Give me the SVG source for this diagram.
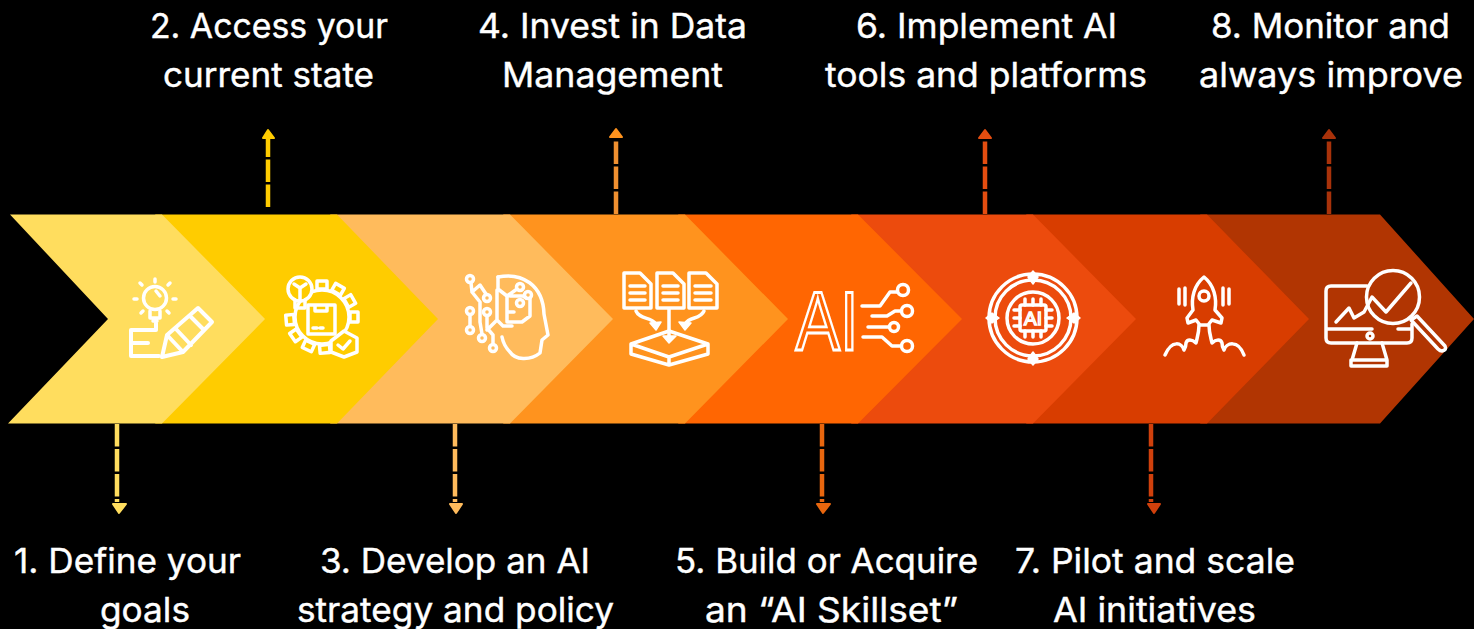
<svg xmlns="http://www.w3.org/2000/svg" width="1474" height="629" viewBox="0 0 1474 629">
<style>
text.l{font-family:"Inter","Liberation Sans",sans-serif;font-size:34px;font-weight:400;fill:#fff;stroke:#fff;stroke-width:.4;text-anchor:middle}
.ic{fill:none;stroke:#fff;stroke-width:3.500;stroke-linecap:round;stroke-linejoin:round}
.icf{fill:#fff;stroke:#fff;stroke-width:1.500;stroke-linejoin:round}
.ai{font-family:"Liberation Sans",sans-serif;fill:none;stroke:#fff;text-anchor:middle}
.c{fill:none;stroke-width:4.500;stroke-dasharray:22.500 2.500}
.h{stroke-width:2;stroke-linejoin:round}
</style>
<rect width="1474" height="629" fill="#000"/>
<g id="band">
<polygon points="1200,214.500 1380,214.500 1474,319 1380,423.500 1200,423.500 1300,319" fill="#b13502"/>
<polygon points="1026,214.500 1207,214.500 1309,319 1207,423.500 1026,423.500 1127,319" fill="#d83d00"/>
<polygon points="851,214.500 1033,214.500 1136,319 1033,423.500 851,423.500 953,319" fill="#ec4b0d"/>
<polygon points="678,214.500 858,214.500 962,319 858,423.500 678,423.500 779,319" fill="#ff6602"/>
<polygon points="503,214.500 685,214.500 788,319 685,423.500 503,423.500 604,319" fill="#ff931e"/>
<polygon points="330,214.500 510,214.500 613,319 510,423.500 330,423.500 429,319" fill="#ffbb5c"/>
<polygon points="155,214.500 337,214.500 438,319 337,423.500 155,423.500 256,319" fill="#ffcc00"/>
<polygon points="10,214.500 162,214.500 265,319 162,423.500 8,423.500 108,319" fill="#ffdd5e"/>
</g>
<g id="connectors">
<path class="c" stroke="#ffdd5e" d="M117,424V502"/><path class="h" fill="#ffdd5e" stroke="#ffdd5e" d="M113,504H126L119,513Z"/>
<path class="c" stroke="#ffcc00" d="M268,207V139"/><path class="h" fill="#ffcc00" stroke="#ffcc00" d="M263,138L268,130L274,138Z"/>
<path class="c" stroke="#ffbb5c" d="M455,424V502"/><path class="h" fill="#ffbb5c" stroke="#ffbb5c" d="M450,504H462L456,513Z"/>
<path class="c" stroke="#f09030" d="M616,214V140"/><path class="h" fill="#ff931e" stroke="#ff931e" d="M610,137L616,129L622,137Z"/>
<path class="c" stroke="#e8660e" d="M822,424V502"/><path class="h" fill="#e8660e" stroke="#e8660e" d="M817,504H830L823,513Z"/>
<path class="c" stroke="#e44d10" d="M985,214V140"/><path class="h" fill="#e44d10" stroke="#e44d10" d="M979,138L985,130L991,138Z"/>
<path class="c" stroke="#d0400c" d="M1151,424V502"/><path class="h" fill="#d0400c" stroke="#d0400c" d="M1148,504H1160L1154,513Z"/>
<path class="c" stroke="#a8320a" d="M1329,214V140"/><path class="h" fill="#a8320a" stroke="#a8320a" d="M1323,138L1329,130L1335,138Z"/>
</g>
<g id="icon-1" class="ic">
<circle cx="155" cy="298" r="11.500"/><path d="M150,311V318H160V311M153,321H157M155,282V279M137,299H134M176,299H173M142,285L140,283M168,285L170,283M143,311L141,313M167,311L169,313M160,296L156,291"/>
<path stroke-width="4" d="M156,323V330H131V343H148M131,343V356H159"/>
<path stroke-width="4" d="M162,357L167,335L198,308L212,322L183,352ZM167,335L183,352M175,328L191,345M190,316L204,330"/>
</g>
<g id="icon-2" class="ic">
<g transform="translate(322,317)">
<rect x="-5" y="-36" width="10" height="8"/><rect x="-5" y="-36" width="10" height="8" transform="rotate(30)"/><rect x="-5" y="-36" width="10" height="8" transform="rotate(60)"/><rect x="-5" y="-36" width="10" height="8" transform="rotate(90)"/><rect x="-5" y="-36" width="10" height="8" transform="rotate(175)"/><rect x="-5" y="-36" width="10" height="8" transform="rotate(205)"/><rect x="-5" y="-36" width="10" height="8" transform="rotate(235)"/><rect x="-5" y="-36" width="10" height="8" transform="rotate(265)"/>
<circle r="27"/>
</g>
<circle cx="300" cy="289" r="12" fill="#ffcc00"/><path d="M295,300V308H305V300M300,288V301M294,284L300,288L306,284"/>
<rect x="308" y="305" width="27" height="29" fill="#ffcc00"/><path d="M313,328H317M320,328H323M315,306V311H327V306"/>
<path fill="#ffcc00" d="M331,341L344,331L357,338V352L344,357L331,352ZM338,345L343,349L350,341"/>
</g>
<g id="icon-3" class="ic">
<path d="M498,277C522,272 543,285 544,314L548,335L542,340L540,353C530,361 515,360 510,352C506,348 503,342 502,337"/>
<circle cx="470" cy="279" r="3.500"/><circle cx="470" cy="311" r="3.500"/><circle cx="470" cy="330" r="3.500"/><circle cx="482" cy="338" r="3.500"/><circle cx="487" cy="298" r="3.500"/><circle cx="487" cy="312" r="3.500"/><circle cx="493" cy="348" r="3.500"/><circle cx="520" cy="287" r="3.500"/><circle cx="528" cy="295" r="3.500"/><circle cx="520" cy="303" r="3.500"/>
<path d="M471,283L472,292L480,302V322L482,334M472,292L480,285L486,294M470,315V326M487,316V328L493,335V344M498,277V289L507,296L517,289M497,290V320L487,330M507,296V312H514M510,296H523L526,298M507,312V322H522L530,316V299M497,320L503,326H512"/>
</g>
<g id="icon-4" class="ic">
<path d="M624,308V273H640L651,284V308ZM657,308V273H673L684,284V308ZM689,308V273H706L717,284V308Z"/>
<path d="M630,286H645M630,293H645M630,300H645M663,286H678M663,293H678M663,300H678M695,286H711M695,293H711M695,300H711"/>
<path d="M669,309V336M636,311C640,320 650,316 656,324M704,311C700,320 690,316 685,324"/>
<path class="icf" d="M650,323L661,322L656,330ZM691,323L679,322L685,330ZM663,336H676L669,343Z"/>
<path d="M631,344L669,331L708,344V354L669,365L631,354ZM631,344L669,357L708,344M669,357V365"/>
</g>
<g id="icon-5">
<text class="ai" x="827" y="350" font-size="84" stroke-width="2.800" textLength="63" lengthAdjust="spacingAndGlyphs">AI</text>
<g class="ic"><path d="M862,306H880L890,292H897M872,316H887L895,311H901M868,327H889M863,337H882L892,346H901"/><circle cx="903" cy="290" r="5.500"/><circle cx="907" cy="311" r="5.500"/><circle cx="894" cy="327" r="4.500"/><circle cx="907" cy="346" r="5.500"/></g>
</g>
<g id="icon-6">
<g class="ic"><circle cx="1033" cy="318" r="44"/><circle cx="1033" cy="318" r="38"/><circle cx="1033" cy="318" r="26"/>
<rect x="1020" y="305" width="26" height="26" rx="2"/>
<path d="M1025,305V299M1033,305V299M1041,305V299M1025,331V337M1033,331V337M1041,331V337M1020,310H1014M1020,318H1014M1020,326H1014M1046,310H1052M1046,318H1052M1046,326H1052"/></g>
<path class="icf" d="M1033,271L1038,277L1033,284L1028,277ZM1033,365L1038,359L1033,352L1028,359ZM986,318L992,313L999,318L992,323ZM1080,318L1074,313L1067,318L1074,323Z"/>
<text class="ai" x="1033" y="325" font-size="19" stroke-width="1.500">AI</text>
</g>
<g id="icon-7" class="ic">
<path d="M1204,277C1194,285 1191,298 1193,310L1187,318L1188,323L1196,320L1200,325H1208L1212,320L1221,323L1222,318L1215,310C1217,298 1214,285 1204,277Z"/>
<circle cx="1204" cy="296" r="5"/>
<path d="M1179,289V304M1185,288V305M1223,288V305M1229,289V304M1199,325C1199,333 1197,338 1196,343C1192,339 1187,339 1186,343C1186,347 1184,350 1184,350C1182,343 1172,339 1165,355M1209,325C1209,333 1211,338 1212,343C1216,339 1221,339 1222,343C1222,347 1224,350 1224,350C1226,343 1238,339 1244,355"/>
</g>
<g id="icon-8" class="ic">
<path d="M1367,286H1331Q1326,286 1326,291V338Q1326,343 1331,343H1407Q1412,343 1412,338V324M1326,329H1372M1398,329H1412"/>
<circle cx="1393" cy="297" r="26.500"/>
<path d="M1336,322L1349,308L1354,318L1364,312L1372,297L1386,312L1411,283M1357,343L1352,360M1382,343L1387,360M1351,360H1387V366H1351Z"/>
<circle cx="1370" cy="336" r="3"/>
<path d="M1411,320L1417,316L1445,346Q1447,350 1442,351Q1440,351 1438,349L1411,320"/>
</g>
<g id="labels">
<g id="label-1"><text class="l" x="127.500" y="573" textLength="227" lengthAdjust="spacingAndGlyphs">1. Define your</text><text class="l" x="145" y="622" textLength="90" lengthAdjust="spacingAndGlyphs">goals</text></g>
<g id="label-2"><text class="l" x="269" y="38" textLength="238" lengthAdjust="spacingAndGlyphs">2. Access your</text><text class="l" x="268.500" y="87" textLength="211" lengthAdjust="spacingAndGlyphs">current state</text></g>
<g id="label-3"><text class="l" x="455" y="573" textLength="270" lengthAdjust="spacingAndGlyphs">3. Develop an AI</text><text class="l" x="455.500" y="622" textLength="317" lengthAdjust="spacingAndGlyphs">strategy and policy</text></g>
<g id="label-4"><text class="l" x="612.500" y="38" textLength="269" lengthAdjust="spacingAndGlyphs">4. Invest in Data</text><text class="l" x="612.500" y="87" textLength="221" lengthAdjust="spacingAndGlyphs">Management</text></g>
<g id="label-5"><text class="l" x="826.500" y="573" textLength="303" lengthAdjust="spacingAndGlyphs">5. Build or Acquire</text><text class="l" x="831.500" y="622" textLength="253" lengthAdjust="spacingAndGlyphs">an “AI Skillset”</text></g>
<g id="label-6"><text class="l" x="986.500" y="38" textLength="261" lengthAdjust="spacingAndGlyphs">6. Implement AI</text><text class="l" x="986" y="87" textLength="322" lengthAdjust="spacingAndGlyphs">tools and platforms</text></g>
<g id="label-7"><text class="l" x="1155" y="573" textLength="280" lengthAdjust="spacingAndGlyphs">7. Pilot and scale</text><text class="l" x="1154.500" y="622" textLength="203" lengthAdjust="spacingAndGlyphs">AI initiatives</text></g>
<g id="label-8"><text class="l" x="1330.500" y="38" textLength="239" lengthAdjust="spacingAndGlyphs">8. Monitor and</text><text class="l" x="1331" y="87" textLength="264" lengthAdjust="spacingAndGlyphs">always improve</text></g>
</g>
</svg>
